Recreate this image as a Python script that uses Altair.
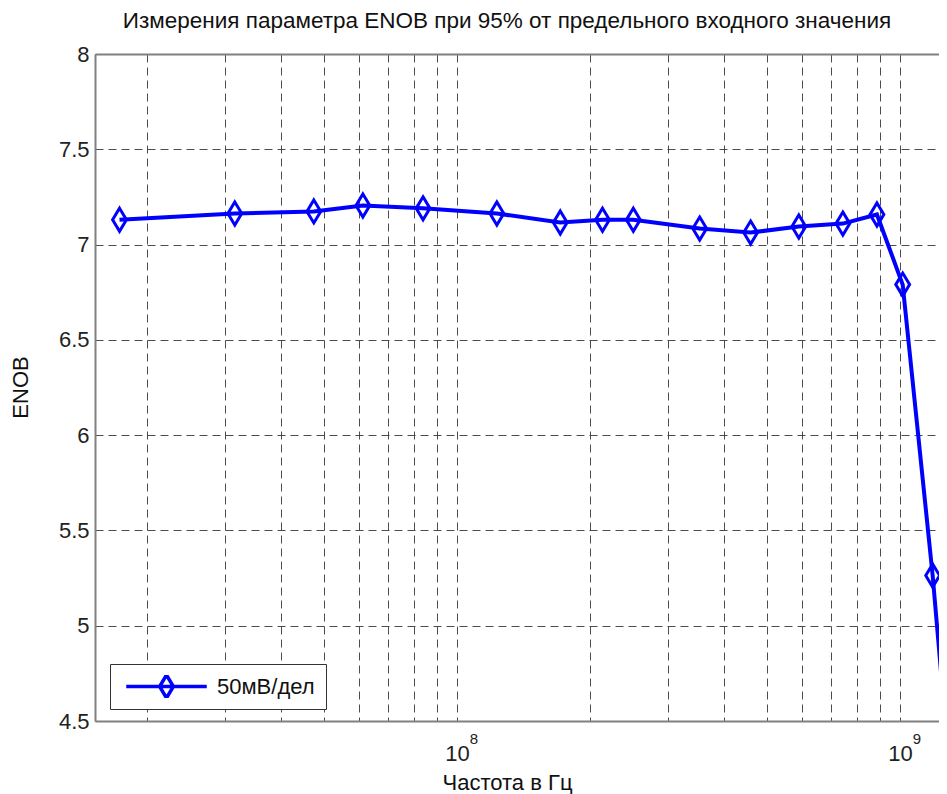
import altair as alt
import pandas as pd

# ---- data ----
freq_hz = [1.73e7, 3.15e7, 4.75e7, 6.13e7, 8.38e7, 1.23e8, 1.71e8, 2.13e8, 2.50e8,
           3.53e8, 4.60e8, 5.91e8, 7.43e8, 8.87e8, 1.014e9, 1.185e9, 1.37e9]
enob = [7.13, 7.163, 7.174, 7.205, 7.19, 7.163, 7.116, 7.13, 7.13,
        7.084, 7.063, 7.095, 7.11, 7.158, 6.79, 5.263, 3.57]
series_name = "50мВ/дел"

x_grid_values = [2e7, 3e7, 4e7, 5e7, 6e7, 7e7, 8e7, 9e7, 1e8,
                 2e8, 3e8, 4e8, 5e8, 6e8, 7e8, 8e8, 9e8, 1e9]
decades = [1e8, 1e9]
exponents = ["8", "9"]
y_tick_values = [4.5, 5, 5.5, 6, 6.5, 7, 7.5, 8]
x_domain = [1.523e7, 1.2247e9]
y_domain = [4.5, 8]

title_text = "Измерения параметра ENOB при 95% от предельного входного значения"
x_title = "Частота в Гц"
y_title = "ENOB"

df = pd.DataFrame({"freq": freq_hz, "enob": enob, "series": [series_name] * len(freq_hz)})
df_exp = pd.DataFrame({"decade": decades, "exp": exponents})

FONT = "Liberation Sans"
BLUE = "#0000ff"
diamond = "M0,-1L0.6,0L0,1L-0.6,0Z"
legend_symbol = "M-3.5,0H3.5M0,-1L0.6,0L0,1L-0.6,0Z"

xscale = alt.Scale(type="log", domain=x_domain, nice=False)
yscale = alt.Scale(domain=y_domain, nice=False, zero=False)

y_axis = alt.Axis(
    values=y_tick_values, grid=True, gridDash=[8, 5], gridColor="#3a3a3a",
    gridWidth=1, gridOpacity=0.9, ticks=False, domain=True,
    domainColor="#808080", domainWidth=2,
    labelExpr="format(datum.value, '~g')",
    labelFont=FONT, labelFontSize=22, labelColor="#222", labelPadding=6,
    labelFlush=False, labelOverlap=False,
    title=y_title, titleFont=FONT, titleFontSize=22, titleFontWeight="normal",
    titleColor="#111", titleX=-68, titleY=333, titleAngle=270,
    titleBaseline="alphabetic", titleAlign="center",
)

base = alt.Chart(df)

line = base.mark_line(
    strokeWidth=4, clip=True,
    point=alt.OverlayMarkDef(shape=diamond, filled=False, size=530, strokeWidth=3, clip=True),
).encode(
    x=alt.X("freq:Q", scale=xscale,
            axis=alt.Axis(
                orient="bottom", values=x_grid_values, grid=True,
                gridDash=[8, 5], gridColor="#3a3a3a", gridWidth=1, gridOpacity=0.9,
                ticks=False, domain=True, domainColor="#808080", domainWidth=2,
                labelExpr="(datum.value == 100000000 || datum.value == 1000000000) ? '10' : ''",
                labelFont=FONT, labelFontSize=22, labelColor="#222", labelPadding=22,
                labelFlush=False, labelOverlap=False,
                title=x_title, titleFont=FONT, titleFontSize=22, titleFontWeight="normal",
                titleColor="#111", titleX=412, titleY=68, titleBaseline="alphabetic",
                titleAlign="center",
            )),
    y=alt.Y("enob:Q", scale=yscale, axis=y_axis),
    color=alt.Color("series:N", scale=alt.Scale(range=[BLUE]),
                    legend=alt.Legend(
                        title=None, orient="none", legendX=15, legendY=610,
                        symbolType=legend_symbol, symbolSize=529, symbolStrokeWidth=3.5,
                        symbolFillColor="transparent", symbolOffset=32, labelOffset=37,
                        labelFont=FONT, labelFontSize=22, labelColor="#111",
                        clipHeight=23,
                        padding=11, strokeColor="#333", fillColor="white",
                    )),
)

top_border = base.mark_point(opacity=0).encode(
    x=alt.X("freq:Q", scale=xscale,
            axis=alt.Axis(orient="top", labels=False, ticks=False, grid=False,
                          domain=True, domainColor="#808080", domainWidth=2, title=None)),
    y=alt.Y("enob:Q", scale=yscale, axis=y_axis),
)

exp_text = alt.Chart(df_exp).mark_text(
    font=FONT, fontSize=15, color="#222", align="center", baseline="alphabetic", dx=17
).encode(
    x=alt.X("decade:Q", scale=xscale, axis=None),
    y=alt.value(690),
    text="exp:N",
)

chart = alt.layer(line, top_border, exp_text).resolve_axis(x="independent").properties(
    width=844, height=667,
    title=alt.Title(title_text, font=FONT, fontSize=22.5, fontWeight="normal", color="#111",
                    anchor="middle", dx=-10, dy=11, offset=4, baseline="alphabetic"),
    autosize=alt.AutoSizeParams(type="none"),
    padding={"left": 87, "top": 46, "right": 0, "bottom": 74},
).configure_view(stroke=None).configure(background="white")

chart.save("out.html", embed_options={"renderer": "svg", "actions": False})
